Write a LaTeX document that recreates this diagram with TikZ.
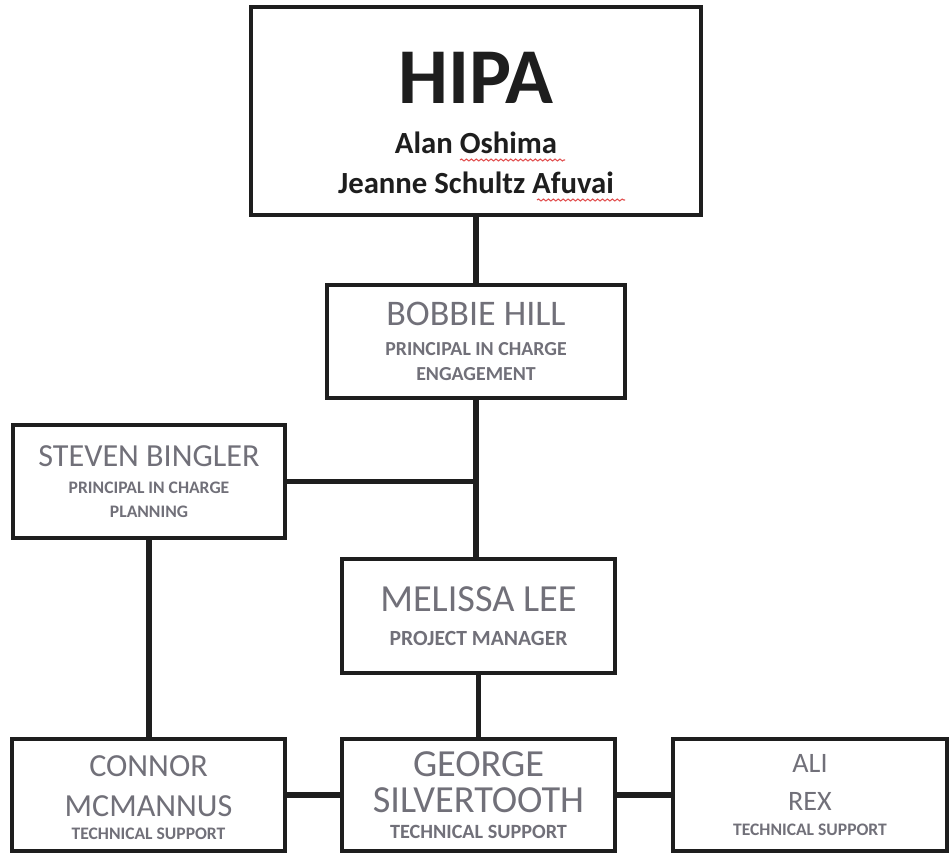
\documentclass[tikz,border=0pt]{standalone}
\usepackage{fontspec}
\setmainfont{Carlito}
\usepackage{xcolor}
\usepackage{tikz}
\usetikzlibrary{positioning, calc, decorations.pathmorphing}
\definecolor{namegray}{HTML}{717079}
\definecolor{inkdark}{HTML}{1E1E1E}
\definecolor{squigred}{HTML}{E25050}

\newcommand{\nm}[2]{{\fontsize{#1}{0}\selectfont #2}}
\newcommand{\ttl}[2]{{\bfseries\fontsize{#1}{0}\selectfont #2}}

\begin{document}
\begin{tikzpicture}[
    box/.style={draw=inkdark, line width=1.9pt, fill=white, minimum width=#1, minimum height=2.24cm, align=center, text=namegray, inner sep=2pt, font=\fontsize{10}{0}\selectfont},
    link/.style={draw=inkdark, line width=3.2pt},
    squig/.style={draw=squigred, line width=0.6pt, decorate, decoration={snake, amplitude=0.55pt, segment length=2.8pt}},
]
    \useasboundingbox (0,0) rectangle (19.02,17.08);

    % top level
    \node[box=9.0cm, minimum height=4.16cm, text=inkdark] (hipa) at (9.52, 14.86)
        {\ttl{45}{\rule{0pt}{43pt}HIPA}\\[15pt]\ttl{17.5}{Alan Oshima}\\[9.4pt]\ttl{17.5}{Jeanne Schultz Afuvai}};
    \node[box=5.96cm, minimum height=2.26cm] (bobbie) at (9.52, 10.25)
        {\nm{20.5}{BOBBIE HILL}\\[8.1pt]\ttl{11.3}{PRINCIPAL IN CHARGE}\\[5.8pt]\ttl{11.3}{ENGAGEMENT}};
    \node[box=5.44cm, minimum height=2.26cm] (steven) at (2.98, 7.45)
        {\nm{18.3}{STEVEN BINGLER}\\[8.1pt]\ttl{10}{PRINCIPAL IN CHARGE}\\[5.8pt]\ttl{10}{PLANNING}};
    \node[box=5.46cm, minimum height=2.28cm] (melissa) at (9.57, 4.76)
        {\nm{21.8}{MELISSA LEE}\\[10.3pt]\ttl{12.3}{PROJECT MANAGER}};

    % spelling marks
    \coordinate (oshimaL) at ($(hipa.center)+(-0.32,-0.98)$);
    \coordinate (oshimaR) at ($(hipa.center)+(1.78,-0.98)$);
    \coordinate (afuvaiL) at ($(hipa.center)+(1.22,-1.78)$);
    \coordinate (afuvaiR) at ($(hipa.center)+(2.98,-1.78)$);
    \draw[squig] (oshimaL) -- (oshimaR);
    \draw[squig] (afuvaiL) -- (afuvaiR);

    % bottom row
    \node[box=5.46cm] (connor) at (2.97, 1.18)
        {\nm{18.3}{\rule{0pt}{15pt}CONNOR}\\[9.5pt]\nm{18.3}{MCMANNUS}\\[5.4pt]\ttl{10}{TECHNICAL SUPPORT}};
    \node[box=5.46cm] (george) at (9.57, 1.18)
        {\nm{21.8}{GEORGE}\\[5.2pt]\nm{21.8}{SILVERTOOTH}\\[6.4pt]\ttl{11.5}{TECHNICAL SUPPORT}};
    \node[box=5.48cm] (ali) at (16.2, 1.18)
        {\nm{16}{ALI}\\[10.3pt]\nm{16}{REX}\\[6.4pt]\ttl{10}{TECHNICAL SUPPORT}};

    % connectors
    \draw[link] (hipa.south) -- (bobbie.north);
    \draw[link] (bobbie.south) -- (bobbie.south |- melissa.north);
    \draw[link] (steven.east) -- (steven.east -| bobbie.south);
    \draw[link] (steven.south) -- (steven.south |- connor.north);
    \draw[link] (melissa.south) -- (george.north);
    \draw[link] (connor.east) -- (george.west);
    \draw[link] (george.east) -- (ali.west);
\end{tikzpicture}
\end{document}
